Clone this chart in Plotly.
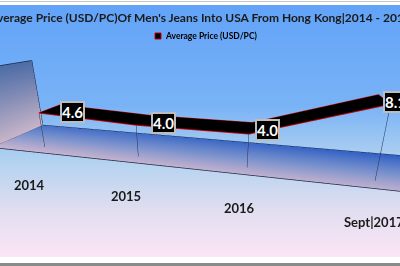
import base64
import plotly.graph_objects as go

# ---------------- data ----------------
categories = ["2014", "2015", "2016", "Sept|2017"]
avg_price = [4.6, 4.0, 4.0, 8.1]
value_labels = ["4.6", "4.0", "4.0", "8.1"]
series_name = "Average Price (USD/PC)"
title_text = "Average Price (USD/PC)Of Men's Jeans Into USA From Hong Kong|2014 - 2017"

# ---------------- geometry / style ----------------
W, H = 400, 266
FONT = "Lato"
x_range = [-0.5, len(categories) - 0.5]
y_range = [0.0, 1.0]          # depth: 0 = front, 1 = back
z_range = [0.0, 10.0]
ribbon_front, ribbon_back = 0.185, 0.62
label_depth = 0.55
xs = list(range(len(categories)))
x0, x1 = x_range
zmax = z_range[1]
flat = dict(ambient=1, diffuse=0, specular=0, roughness=1, fresnel=0)

fig = go.Figure()

# floor (gradient surface)
fig.add_trace(go.Surface(
    x=[[x0, x1], [x0, x1]], y=[[0, 0], [1, 1]], z=[[0, 0], [0, 0]],
    surfacecolor=[[0.0, 0.08], [0.8, 1.0]],
    colorscale=[[0, "#cbb5ce"], [0.45, "#7891cd"], [1, "#2c5ec4"]],
    cmin=0, cmax=1, showscale=False, hoverinfo="skip", lighting=flat,
))
# left side wall (gradient surface)
fig.add_trace(go.Surface(
    x=[[x0, x0], [x0, x0]], y=[[0, 1], [0, 1]], z=[[0, 0], [zmax, zmax]],
    surfacecolor=[[0, 0], [1, 1]],
    colorscale=[[0, "#c8b5c9"], [1, "#4c6ca6"]],
    cmin=0, cmax=1, showscale=False, hoverinfo="skip", lighting=flat,
))
# box edges
ex, ey, ez = [], [], []
for (a, b) in [((x0, 0, 0), (x1, 0, 0)), ((x0, 1, 0), (x1, 1, 0)), ((x0, 0, 0), (x0, 1, 0)),
               ((x0, 0, zmax), (x0, 1, zmax)), ((x0, 1, 0), (x0, 1, zmax)), ((x0, 0, 0), (x0, 0, zmax))]:
    ex += [a[0], b[0], None]; ey += [a[1], b[1], None]; ez += [a[2], b[2], None]
fig.add_trace(go.Scatter3d(x=ex, y=ey, z=ez, mode="lines",
                           line=dict(color="#1a2642", width=1.5), hoverinfo="skip", showlegend=False))

# drop lines
dx, dy, dz = [], [], []
for i, v in zip(xs, avg_price):
    dx += [i, i, None]; dy += [ribbon_front, ribbon_front, None]; dz += [v, 0, None]
fig.add_trace(go.Scatter3d(x=dx, y=dy, z=dz, mode="lines",
                           line=dict(color="#26324d", width=1), hoverinfo="skip", showlegend=False))

# ribbon (3-D line)
vx, vy, vz = [], [], []
for i, v in zip(xs, avg_price):
    vx += [i, i]; vy += [ribbon_front, ribbon_back]; vz += [v, v]
ti, tj, tk = [], [], []
for s in range(len(xs) - 1):
    a = 2 * s
    ti += [a, a + 1]; tj += [a + 1, a + 3]; tk += [a + 2, a + 2]
fig.add_trace(go.Mesh3d(x=vx, y=vy, z=vz, i=ti, j=tj, k=tk, color="black",
                        flatshading=True, hoverinfo="skip", showlegend=False, lighting=flat))
ox = xs + xs[::-1] + [xs[0]]
oy = [ribbon_front] * len(xs) + [ribbon_back] * len(xs) + [ribbon_front]
oz = avg_price + avg_price[::-1] + [avg_price[0]]
fig.add_trace(go.Scatter3d(x=ox, y=oy, z=oz, mode="lines",
                           line=dict(color="#c00000", width=2), hoverinfo="skip", showlegend=False))

# annotations in the scene: value labels and category labels
scene_ann = []
for i, v, t in zip(xs, avg_price, value_labels):
    scene_ann.append(dict(x=i, y=label_depth, z=v, text="<b>%s</b>" % t, showarrow=False,
                          xanchor="left", yanchor="middle", xshift=3, yshift=-6,
                          font=dict(family=FONT, size=15, color="white"),
                          bgcolor="black", bordercolor="#bdbdbd", borderwidth=2, borderpad=0))
for i, c in zip(xs, categories):
    scene_ann.append(dict(x=i, y=0, z=0, text="<b>%s</b>" % c, showarrow=False,
                          xanchor="center", yanchor="middle", xshift=-6, yshift=-33,
                          font=dict(family=FONT, size=13, color="#1a1a1a")))

noaxis = dict(visible=False, showbackground=False, showgrid=False, zeroline=False)
fig.update_layout(
    width=W, height=H, margin=dict(l=0, r=0, t=0, b=0),
    paper_bgcolor="white", showlegend=False,
    scene=dict(
        domain=dict(x=[0, 1], y=[0, 1]),
        xaxis=dict(range=x_range, **noaxis),
        yaxis=dict(range=y_range, **noaxis),
        zaxis=dict(range=z_range, **noaxis),
        aspectmode="manual", aspectratio=dict(x=4, y=0.736, z=0.762),
        camera=dict(eye=dict(x=0.699, y=-2.745, z=0.809),
                    center=dict(x=0.029, y=0.004, z=-0.187),
                    up=dict(x=0, y=0, z=1),
                    projection=dict(type="perspective")),
        bgcolor="rgba(0,0,0,0)",
        annotations=scene_ann,
    ),
    title=dict(text="<b>%s</b>" % title_text, x=0.5, xanchor="center", y=1 - 18 / H, yanchor="middle",
               yref="container", font=dict(family=FONT, size=12, color="#1a1a1a")),
)

# background gradient image
svg = ("<svg xmlns='http://www.w3.org/2000/svg' width='400' height='252' preserveAspectRatio='none'>"
       "<defs><linearGradient id='g' x1='0' y1='0' x2='0' y2='1'>"
       "<stop offset='0' stop-color='#62a3f8'/><stop offset='0.4' stop-color='#79b3f6'/>"
       "<stop offset='0.62' stop-color='#b3d2f0'/><stop offset='0.82' stop-color='#e2def0'/>"
       "<stop offset='1' stop-color='#fbe5f6'/></linearGradient></defs>"
       "<rect width='400' height='252' fill='url(#g)'/></svg>")
src = "data:image/svg+xml;base64," + base64.b64encode(svg.encode()).decode()
fig.add_layout_image(dict(source=src, xref="paper", yref="paper", x=0, y=1 - 5 / H,
                          sizex=1, sizey=252 / H, sizing="stretch", layer="below",
                          xanchor="left", yanchor="top"))

# frame lines
fig.add_shape(type="line", xref="paper", yref="paper", x0=0, x1=1, y0=1 - 1.5 / H, y1=1 - 1.5 / H,
              line=dict(color="#c4c4c4", width=1))
fig.add_shape(type="rect", xref="paper", yref="paper", x0=0, x1=1, y0=0, y1=3 / H,
              fillcolor="#8a8a8a", line=dict(width=0))

# legend
fig.add_shape(type="rect", xref="paper", yref="paper", x0=155 / W, x1=161 / W, y0=1 - 39 / H, y1=1 - 33 / H,
              fillcolor="black", line=dict(color="#c00000", width=1))
fig.add_annotation(x=163 / W, y=1 - 36 / H, xref="paper", yref="paper", text="<b>%s</b>" % series_name,
                   showarrow=False, xanchor="left", yanchor="middle",
                   font=dict(family=FONT, size=8.5, color="#000000"))

fig.write_html("out.html", config={"displayModeBar": False})
